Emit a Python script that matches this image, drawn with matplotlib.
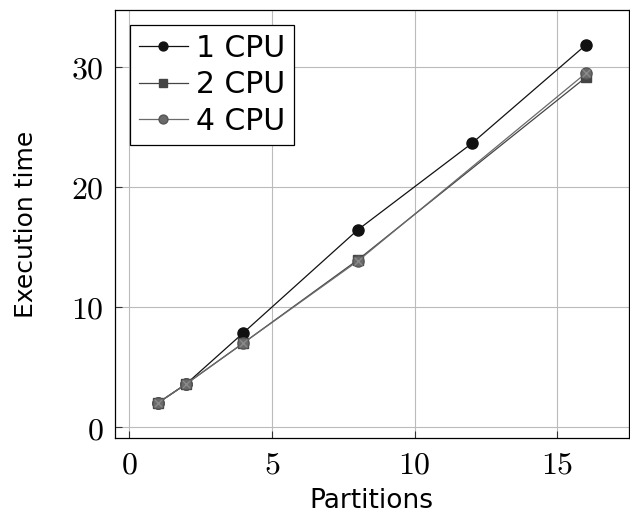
import matplotlib.pyplot as plt

plt.rcParams['mathtext.fontset'] = 'cm'

# data
x_1cpu = [1, 2, 4, 8, 12, 16]
t_1cpu = [2.0, 3.6, 7.85, 16.4, 23.6, 31.8]
x_2cpu = [1, 2, 4, 8, 16]
t_2cpu = [2.0, 3.6, 7.0, 13.9, 29.1]
x_4cpu = [1, 2, 4, 8, 16]
t_4cpu = [2.0, 3.6, 7.0, 13.8, 29.45]

xticks = [0, 5, 10, 15]
yticks = [0, 10, 20, 30]

fig = plt.figure(figsize=(6.3, 5.14), dpi=100)
ax = fig.add_axes([0.1825, 0.148, 0.8155, 0.8325])

ax.plot(x_1cpu, t_1cpu, '-o', color='#111111', lw=0.9, ms=8, label='1 CPU', zorder=3)
ax.plot(x_2cpu, t_2cpu, '-s', color='#444444', lw=0.9, ms=7.5, label='2 CPU', zorder=3)
ax.plot(x_4cpu, t_4cpu, '-o', color='#6a6a6a', mec='#555555', lw=0.9, ms=8, label='4 CPU', zorder=4)
ax.plot(x_4cpu, t_4cpu, 'x', color='#8a8a8a', ms=5.5, mew=1.0, zorder=5)

ax.set_xlim(-0.5, 17.5)
ax.set_ylim(-0.9, 34.7)
ax.set_xticks(xticks)
ax.set_yticks(yticks)
ax.set_xticklabels([r'$%d$' % v for v in xticks])
ax.set_yticklabels([r'$%d$' % v for v in yticks])
ax.tick_params(direction='in', labelsize=23, length=5, color='#333333', pad=8)
ax.grid(True, color='#bbbbbb', lw=0.8)
ax.set_axisbelow(True)
for s in ax.spines.values():
    s.set_linewidth(0.9)

ax.set_xlabel('Partitions', fontsize=19, family='DejaVu Sans', labelpad=6)
ax.set_ylabel('Execution time', fontsize=18, family='DejaVu Sans', labelpad=24)

leg = ax.legend(loc='upper left', fontsize=21.5, fancybox=False, framealpha=1,
                edgecolor='black', handlelength=1.65, borderpad=0.3,
                labelspacing=0.25, handletextpad=0.25, markerscale=0.8,
                borderaxespad=0.5)
leg.get_frame().set_linewidth(0.9)

fig.savefig('out.png', dpi=100)
